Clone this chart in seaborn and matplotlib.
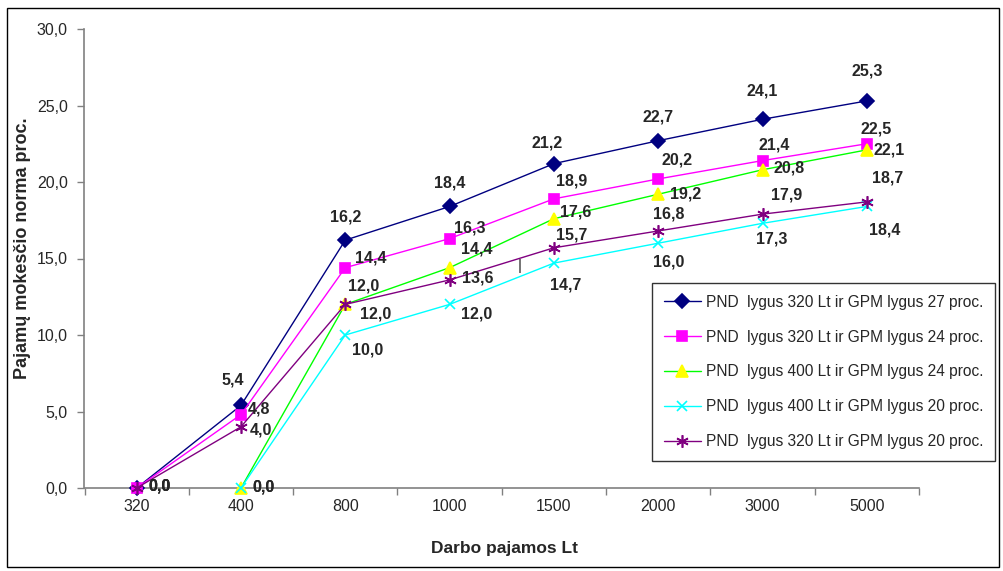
import numpy as np
import pandas as pd
import matplotlib
matplotlib.use("Agg")
import matplotlib.pyplot as plt
from matplotlib.patches import Rectangle
import seaborn as sns

# income categories (x axis)
incomes = ["320", "400", "800", "1000", "1500", "2000", "3000", "5000"]

# tax rate series, proc.
pnd320_gpm27 = [0.0, 5.4, 16.2, 18.4, 21.2, 22.7, 24.1, 25.3]
pnd320_gpm24 = [0.0, 4.8, 14.4, 16.3, 18.9, 20.2, 21.4, 22.5]
pnd400_gpm24 = [np.nan, 0.0, 12.0, 14.4, 17.6, 19.2, 20.8, 22.1]
pnd400_gpm20 = [np.nan, 0.0, 10.0, 12.0, 14.7, 16.0, 17.3, 18.4]
pnd320_gpm20 = [0.0, 4.0, 12.0, 13.6, 15.7, 16.8, 17.9, 18.7]

labels = [
    "PND  lygus 320 Lt ir GPM lygus 27 proc.",
    "PND  lygus 320 Lt ir GPM lygus 24 proc.",
    "PND  lygus 400 Lt ir GPM lygus 24 proc.",
    "PND  lygus 400 Lt ir GPM lygus 20 proc.",
    "PND  lygus 320 Lt ir GPM lygus 20 proc.",
]
series = [pnd320_gpm27, pnd320_gpm24, pnd400_gpm24, pnd400_gpm20, pnd320_gpm20]

# styles: line colour, marker, marker face, marker edge, marker size
styles = [
    ("#000080", "D", "#000080", "#000080", 7.5),
    ("#FF00FF", "s", "#FF00FF", "#FF00FF", 7),
    ("#00FF00", "^", "#FFFF00", "#FFFF00", 8.5),
    ("#00FFFF", "x", "#00FFFF", "#00FFFF", 7.5),
    ("#800080", (6, 2, 0), "#800080", "#800080", 9),
]

# data label offsets in pixels (dx, dy with y down)
label_offsets = [
    [(23, -2), (-8, -25), (0, -23), (0, -23), (-7, -21), (0, -24), (0, -28), (0, -30)],
    [(23, -2), (18, -6), (25, -10), (20, -11), (18, -18), (19, -19), (12, -16), (9, -15)],
    [None, (23, -1), (18, -18), (27, -19), (22, -7), (27, 0), (27, -2), (22, 0)],
    [None, (23, -1), (22, 15), (27, 10), (12, 22), (10, 19), (9, 16), (18, 24)],
    [(23, -2), (20, 3), (30, 10), (28, -2), (18, -13), (10, -17), (24, -19), (21, -24)],
]

sns.set_style("white")
plt.rcParams["font.family"] = ["Liberation Sans", "DejaVu Sans"]

fig = plt.figure(figsize=(10.04, 5.71), dpi=100)
W, H = 1004, 571
ax = fig.add_axes([84.5 / W, 83 / H, (919 - 84.5) / W, 459 / H])

pos = np.arange(len(incomes))
for vals, lab, (col, mk, mfc, mec, ms) in zip(series, labels, styles):
    df = pd.DataFrame({"x": pos, "y": vals}).dropna()
    sns.lineplot(data=df, x="x", y="y", ax=ax, color=col, linewidth=1.0,
                 marker=mk, markersize=ms, markerfacecolor=mfc,
                 markeredgecolor=mec, markeredgewidth=1.2, label=lab,
                 clip_on=False, zorder=3)

for vals, offs in zip(series, label_offsets):
    for i, v in enumerate(vals):
        if offs[i] is None or np.isnan(v):
            continue
        dx, dy = offs[i]
        ax.annotate(f"{v:.1f}".replace(".", ","), (pos[i], v),
                    xytext=(dx, -dy), textcoords="offset pixels",
                    ha="center", va="center", fontsize=11.5, fontweight="bold",
                    zorder=5, annotation_clip=False)

ax.set_xlim(-0.5, len(incomes) - 0.5)
ax.set_ylim(0, 30)

ax.set_xticks(np.arange(-0.5, len(incomes), 1))
ax.set_xticklabels([])
ax.set_xticks(pos, minor=True)
ax.set_xticklabels(incomes, minor=True)
ax.tick_params(axis="x", which="major", direction="out", length=5,
               width=1, color="#808080", bottom=True)
ax.tick_params(axis="x", which="minor", length=0, pad=8, labelsize=11.5)

yt = np.arange(0, 31, 5)
ax.set_yticks(yt)
ax.set_yticklabels([f"{t:.1f}".replace(".", ",") for t in yt])
ax.tick_params(axis="y", direction="out", length=5, width=1,
               color="#808080", left=True, pad=7, labelsize=11.5)

for s in ["top", "right"]:
    ax.spines[s].set_visible(False)
for s in ["left", "bottom"]:
    ax.spines[s].set_color("#808080")
    ax.spines[s].set_linewidth(1.2)

ax.set_xlabel("Darbo pajamos Lt", fontsize=12.5, fontweight="bold")
ax.set_ylabel("Pajamų mokesčio norma proc.", fontsize=13, fontweight="bold")
ax.xaxis.set_label_coords((505 - 84.5) / 834.5, (488 - 541) / 459)
ax.yaxis.set_label_coords((31 - 84.5) / 834.5, (488 - 248) / 459)

ax.text(520, 305, "|", transform=None, fontsize=11, ha="center", va="center")

leg = ax.legend(loc="upper left", bbox_to_anchor=(652 / W, (H - 283) / H),
                bbox_transform=fig.transFigure, fontsize=11.2, frameon=True,
                fancybox=False, edgecolor="black", handlelength=2.4,
                labelspacing=1.28, borderpad=0.75, handletextpad=0.3,
                borderaxespad=0)
leg.get_frame().set_linewidth(1.0)

fig.add_artist(Rectangle((7 / W, 4 / H), 992 / W, 559 / H, transform=fig.transFigure,
                         fill=False, edgecolor="black", linewidth=1.0))

fig.savefig("out.png", dpi=100)
